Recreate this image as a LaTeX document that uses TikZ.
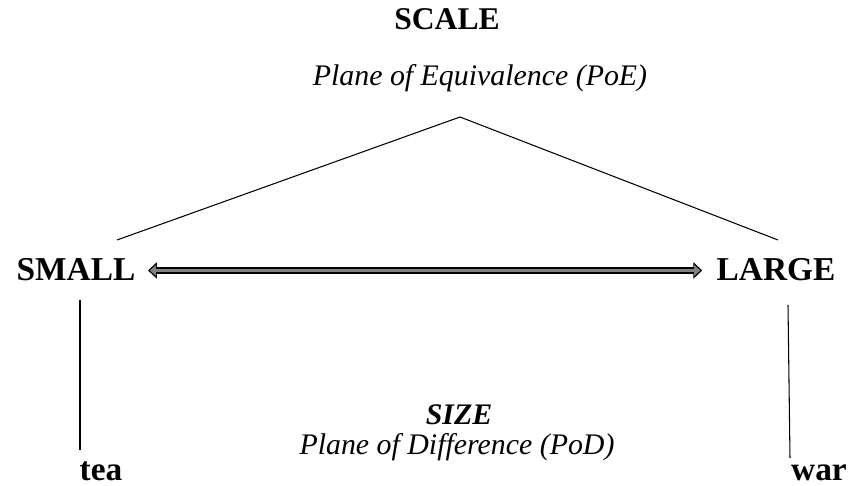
\documentclass[tikz,border=0pt]{standalone}
\usepackage{fontspec}
\setmainfont{Liberation Serif}
\usetikzlibrary{arrows.meta}

\tikzset{
  term/.style={inner sep=0pt, anchor=base, font=\fontsize{19}{21}\selectfont\bfseries},
  plane/.style={inner sep=0pt, anchor=base, font=\fontsize{17}{20}\selectfont\itshape},
  link/.style={line width=0.6pt}
}

\begin{document}
\begin{tikzpicture}[x=0.02cm, y=-0.02cm]
			\useasboundingbox (0,0) rectangle (849,486);
			% top: scale
			\node[term, font=\fontsize{18}{20}\selectfont\bfseries] (scale) at (447,30) {SCALE};
			\node[plane] (poe) at (480,86) {Plane of Equivalence (PoE)};
			% the two poles
			\node[term] (small) at (76,281) {SMALL};
			\node[term] (large) at (776,281) {LARGE};
			% bottom: size
			\node[term, font=\fontsize{17}{20}\selectfont\bfseries\itshape] (size) at (459,424) {SIZE};
			\node[plane] (pod) at (457,454) {Plane of Difference (PoD)};
			% examples
			\node[term] (tea) at (101,480) {tea};
			\node[term] (war) at (819,480) {war};
			\coordinate (apex) at (460,117);
			\coordinate (smallup) at (117,240);
			\coordinate (largeup) at (778,240);
			\coordinate (smalldown) at (80,300);
			\coordinate (teaup) at (80,450);
			\coordinate (largedown) at (788,305);
			\coordinate (warup) at (790,458);
			\draw[link] (apex) -- (smallup);
			\draw[link] (apex) -- (largeup);
			\draw[link] (smalldown) -- (teaup);
			\draw[link] (largedown) -- (warup);
			% double arrow between the poles
			\draw[line width=3.8pt, {Triangle[length=5pt, width=9pt]}-{Triangle[length=5pt, width=9pt]}] ([shift={(7pt,6pt)}]small.base east) -- ([shift={(-8pt,6pt)}]large.base west);
			\draw[line width=2pt, black!50, {Triangle[length=3.6pt, width=6pt]}-{Triangle[length=3.6pt, width=6pt]}] ([shift={(8pt,6pt)}]small.base east) -- ([shift={(-9pt,6pt)}]large.base west);
		\end{tikzpicture}
\end{document}
